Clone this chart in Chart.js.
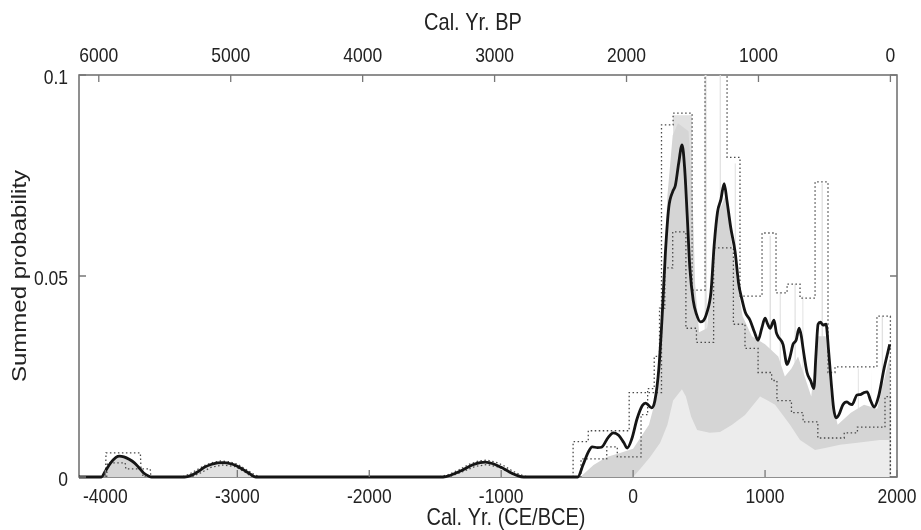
<!DOCTYPE html>
<html>
<head>
<meta charset="utf-8">
<script src="https://cdn.jsdelivr.net/npm/chart.js@4.4.1/dist/chart.umd.min.js"></script>
<style>
  html, body { margin: 0; padding: 0; background: #fff; }
  canvas { display: block; }
</style>
</head>
<body>
<canvas id="spd-chart" width="921" height="530"></canvas>
<script>
// tick labels
const ceTicks = [-4000, -3000, -2000, -1000, 0, 1000, 2000]
const bpTicks = [6000, 5000, 4000, 3000, 2000, 1000, 0]
const probTicks = [0, 0.05, 0.1]

// observed summed probability (black line)
const spdYears = [-4200, -4030, -4000, -3960, -3920, -3894, -3860, -3820, -3780, -3750, -3710, -3670, -3650,
  -3400, -3350, -3300, -3250, -3200, -3150, -3110, -3050, -3000, -2950, -2900, -2860,
  -1440, -1380, -1300, -1220, -1160, -1120, -1060, -1000, -940, -880, -830,
  -420, -380, -340, -310, -270, -240, -190, -150, -110, -70, -45, -10, 30, 70, 95, 140, 165, 195, 220, 245, 270,
  300, 320, 345, 371, 390, 410, 430, 455, 480, 510, 530, 560, 590, 615, 640, 665, 690, 710, 740, 773, 800, 826,
  850, 886, 920, 947, 975, 1000, 1020, 1038, 1068, 1085, 1098, 1136, 1167, 1190, 1212, 1235, 1258, 1275, 1288,
  1318, 1345, 1370, 1385, 1402, 1420, 1440, 1462, 1480, 1500, 1520, 1538, 1560, 1590, 1621, 1640, 1659, 1697,
  1720, 1750, 1773, 1800, 1826, 1860, 1902, 1945]
const spdValues = [0, 0, 0.0015, 0.0035, 0.0049, 0.0052, 0.005, 0.0044, 0.0035, 0.0025, 0.001, 0.0002, 0,
  0, 0.0004, 0.0013, 0.0024, 0.0031, 0.0035, 0.0036, 0.0033, 0.0027, 0.0017, 0.0007, 0,
  0, 0.0005, 0.0016, 0.003, 0.0036, 0.0037, 0.0033, 0.0024, 0.0013, 0.0004, 0,
  0, 0.003, 0.0062, 0.0075, 0.0073, 0.0074, 0.0098, 0.011, 0.0104, 0.0085, 0.0072, 0.0095, 0.0145, 0.0178, 0.0184, 0.0172, 0.019, 0.027, 0.04, 0.056, 0.067,
  0.071, 0.0725, 0.078, 0.0826, 0.077, 0.065, 0.052, 0.044, 0.0405, 0.0386, 0.0388, 0.041, 0.046, 0.058, 0.066, 0.069, 0.073, 0.069, 0.062, 0.056, 0.048, 0.044,
  0.041, 0.039, 0.036, 0.034, 0.037, 0.0395, 0.038, 0.037, 0.039, 0.036, 0.035, 0.033, 0.028, 0.030, 0.033, 0.034, 0.037, 0.035, 0.032,
  0.026, 0.024, 0.022, 0.030, 0.038, 0.0385, 0.0378, 0.038, 0.032, 0.024, 0.017, 0.0147, 0.0155, 0.018, 0.0187, 0.0182, 0.018, 0.0204,
  0.0205, 0.021, 0.0212, 0.019, 0.0174, 0.02, 0.027, 0.033]

// upper / lower dotted envelopes, early humps
const upperEarlyYears = [-4000, -3995, -3735, -3730, -3660, -3655,
  -3420, -3360, -3300, -3240, -3180, -3120, -3060, -3000, -2940, -2880, -2830,
  -1470, -1400, -1320, -1240, -1170, -1110, -1040, -980, -920, -860, -800]
const upperEarlyValues = [0, 0.006, 0.006, 0.002, 0.002, 0,
  0, 0.0008, 0.0019, 0.003, 0.0037, 0.004, 0.0038, 0.0032, 0.002, 0.0008, 0,
  0, 0.0006, 0.0018, 0.0032, 0.004, 0.0042, 0.0037, 0.0028, 0.0016, 0.0006, 0]
const lowerEarlyYears = [-3990, -3985, -3850, -3845, -3720, -3715,
  -3350, -3280, -3200, -3110, -3020, -2950, -2890,
  -1400, -1300, -1200, -1110, -1020, -950, -870]
const lowerEarlyValues = [0, 0.0035, 0.0035, 0.002, 0.002, 0,
  0, 0.001, 0.0024, 0.003, 0.0026, 0.0014, 0,
  0, 0.0012, 0.0026, 0.0031, 0.0025, 0.0014, 0]

// upper / lower dotted envelopes, stepped part (value holds until next year)
const upperStepYears = [-456, -455, -340, -30, 215, 303, 447, 545, 712, 810, 977, 1083, 1167, 1265, 1379, 1477, 1530, 1848, 1950]
const upperStepValues = [0, 0.0088, 0.0115, 0.021, 0.0876, 0.0905, 0.0465, 0.12, 0.0795, 0.045, 0.0607, 0.0458, 0.048, 0.0445, 0.0734, 0.026, 0.0274, 0.040, 0]
const lowerStepYears = [-400, -395, -200, -120, 60, 110, 160, 200, 240, 300, 400, 480, 610, 760, 848, 947, 1050, 1090, 1200, 1288, 1400, 1600, 1700, 1909, 1950]
const lowerStepValues = [0, 0.0045, 0.0075, 0.005, 0.0155, 0.022, 0.03, 0.042, 0.052, 0.061, 0.037, 0.0335, 0.057, 0.038, 0.032, 0.026, 0.024, 0.019, 0.016, 0.0137, 0.0097, 0.011, 0.0124, 0.02, 0]

// mid grey band
const midYears = [-4020, -4000, -3960, -3900, -3840, -3780, -3740, -3700, -3660,
  -400, -300, -200, -100, 0, 60, 120, 160, 200, 230, 260, 300, 340, 420, 450, 470, 500, 560, 600, 640, 700,
  740, 780, 830, 900, 1000, 1100, 1150, 1200, 1250, 1300, 1350, 1400, 1460, 1500, 1550, 1650, 1750, 1850, 1930, 1950, 1951]
const midValues = [0, 0.0015, 0.0038, 0.0055, 0.0052, 0.004, 0.0025, 0.001, 0,
  0, 0.003, 0.005, 0.006, 0.007, 0.01, 0.013, 0.018, 0.03, 0.05, 0.07, 0.085, 0.088, 0.086, 0.07, 0.048, 0.036, 0.037, 0.052, 0.065, 0.07,
  0.06, 0.05, 0.04, 0.035, 0.033, 0.03, 0.025, 0.027, 0.03, 0.025, 0.02, 0.035, 0.035, 0.02, 0.013, 0.016, 0.018, 0.017, 0.028, 0.03, 0]

// pale spikes
const spikeYears = [-3400, -3300, -3200, -3110, -3000, -2900, -2860,
  -1440, -1300, -1200, -1120, -1000, -900, -840,
  300, 303, 447, 450, 538, 542, 556, 560, 652, 656, 664, 668, 765, 770, 778, 782,
  1030, 1034, 1044, 1048, 1108, 1111, 1119, 1122, 1220, 1223, 1232, 1235, 1280, 1283, 1290, 1293,
  1425, 1428, 1438, 1441, 1700, 1703, 1710, 1713, 1800, 1803, 1810, 1813, 1880, 1884, 1894, 1898]
const spikeValues = [0, 0.0012, 0.003, 0.0035, 0.0027, 0.0008, 0,
  0, 0.0015, 0.003, 0.0036, 0.0024, 0.0006, 0,
  0, 0.09, 0.09, 0, 0, 0.12, 0.12, 0, 0, 0.12, 0.12, 0, 0, 0.078, 0.078, 0,
  0, 0.06, 0.06, 0, 0, 0.046, 0.046, 0, 0, 0.048, 0.048, 0, 0, 0.045, 0.045, 0,
  0, 0.073, 0.073, 0, 0, 0.027, 0.027, 0, 0, 0.027, 0.027, 0, 0, 0.04, 0.04, 0]

// pale lower hill
const lightYears = [0, 53, 129, 205, 260, 303, 370, 400, 440, 485, 580, 659, 750, 848, 962, 1020, 1076, 1189, 1265, 1379, 1455, 1568, 1700, 1871, 1945, 1946]
const lightValues = [0, 0.002, 0.005, 0.0085, 0.013, 0.019, 0.0218, 0.02, 0.015, 0.0117, 0.011, 0.0112, 0.013, 0.0154, 0.02, 0.019, 0.018, 0.013, 0.0092, 0.0067, 0.0072, 0.008, 0.0085, 0.0092, 0.0092, 0]

const pts = (xs, ys) => xs.map((x, i) => ({ x, y: ys[i] }))

const FONT = '"Liberation Sans", Arial, Helvetica, sans-serif'
Chart.defaults.font.family = FONT

const fillSet = (data, color, order) => ({
  data, order, fill: 'origin', backgroundColor: color,
  borderWidth: 0, pointRadius: 0, tension: 0, clip: 0
})
const dotSet = (data, order, stepped) => ({
  data, order, stepped, fill: false, borderColor: '#4a4a4a', borderWidth: 1.3,
  borderDash: [1.5, 2.5], pointRadius: 0, tension: 0, clip: 0
})

// the source picture is a little taller than wide, so text gets stretched vertically
const STRETCH = 1.2

const framePlugin = {
  id: 'frame',
  beforeDatasetsDraw(chart) {
    const { ctx, chartArea: a } = chart
    ctx.save()
    ctx.strokeStyle = '#6b6b6b'
    ctx.lineWidth = 1.5
    ctx.strokeRect(a.left, a.top, a.right - a.left, a.bottom - a.top)
    ctx.restore()
  },
  afterDatasetsDraw(chart) {
    const { ctx, chartArea: a, scales } = chart
    ctx.save()
    ctx.strokeStyle = '#777'
    ctx.lineWidth = 1.3
    ctx.beginPath()
    scales.x.ticks.forEach(t => {
      const px = scales.x.getPixelForValue(t.value)
      ctx.moveTo(px, a.bottom); ctx.lineTo(px, a.bottom - 7)
    })
    scales.x2.ticks.forEach(t => {
      const px = scales.x2.getPixelForValue(t.value)
      ctx.moveTo(px, a.top); ctx.lineTo(px, a.top + 7)
    })
    scales.y.ticks.forEach(t => {
      const py = scales.y.getPixelForValue(t.value)
      ctx.moveTo(a.left, py); ctx.lineTo(a.left + 7, py)
      ctx.moveTo(a.right, py); ctx.lineTo(a.right - 7, py)
    })
    ctx.stroke()
    ctx.restore()
  },
  afterDraw(chart) {
    const { ctx, chartArea: a, scales } = chart
    const drawText = (text, x, y, align, size, rotate) => {
      ctx.save()
      ctx.translate(x, y)
      if (rotate) ctx.rotate(-Math.PI / 2)
      ctx.scale(rotate ? STRETCH : 1, rotate ? 1 : STRETCH)
      ctx.font = size + 'px ' + FONT
      ctx.fillStyle = '#222'
      ctx.textAlign = align
      ctx.textBaseline = 'alphabetic'
      ctx.fillText(text, 0, 0)
      ctx.restore()
    }
    scales.x.ticks.forEach(t => drawText(String(t.value), scales.x.getPixelForValue(t.value), a.bottom + 26, 'center', 17.5))
    scales.x2.ticks.forEach(t => drawText(String(t.value), scales.x2.getPixelForValue(t.value), a.top - 13, 'center', 17.5))
    scales.y.ticks.forEach(t => drawText(String(t.value), a.left - 11, scales.y.getPixelForValue(t.value) + 9, 'right', 17.5))

    drawText('Cal. Yr. BP', a.left + 394, 30, 'center', 20)
    drawText('Cal. Yr. (CE/BCE)', a.left + 427, 525, 'center', 20)
    drawText('Summed probability', 26, (a.top + a.bottom) / 2, 'center', 20, true)
  }
}

new Chart(document.getElementById('spd-chart'), {
  type: 'line',
  data: {
    datasets: [
      { data: pts(spdYears, spdValues), order: 0, borderColor: '#151515', borderWidth: 2.8,
        pointRadius: 0, fill: false, cubicInterpolationMode: 'monotone',
        clip: { left: 0, top: 0, right: 0, bottom: 3 } },
      dotSet(pts(upperEarlyYears, upperEarlyValues), 1, false),
      dotSet(pts(lowerEarlyYears, lowerEarlyValues), 1, false),
      dotSet(pts(upperStepYears, upperStepValues), 1, 'before'),
      dotSet(pts(lowerStepYears, lowerStepValues), 1, 'before'),
      fillSet(pts(lightYears, lightValues), '#ececec', 2),
      fillSet(pts(midYears, midValues), '#d5d5d5', 3),
      fillSet(pts(spikeYears, spikeValues), '#e1e1e1', 4)
    ]
  },
  options: {
    responsive: false,
    animation: false,
    events: [],
    layout: { padding: { left: 0, right: 24, top: 0, bottom: 0 } },
    plugins: { legend: { display: false }, tooltip: { enabled: false } },
    scales: {
      x: {
        type: 'linear', position: 'bottom', min: -4200, max: 2000,
        grid: { display: false, drawTicks: false }, border: { display: false },
        afterBuildTicks: s => { s.ticks = ceTicks.map(v => ({ value: v })) },
        afterFit: s => { s.height = 53 },
        ticks: { display: false }
      },
      x2: {
        type: 'linear', position: 'top', min: -50, max: 6150, reverse: true,
        grid: { display: false, drawTicks: false }, border: { display: false },
        afterBuildTicks: s => { s.ticks = bpTicks.map(v => ({ value: v })) },
        afterFit: s => { s.height = 75 },
        ticks: { display: false }
      },
      y: {
        min: 0, max: 0.1,
        grid: { display: false, drawTicks: false }, border: { display: false },
        afterBuildTicks: s => { s.ticks = probTicks.map(v => ({ value: v })) },
        afterFit: s => { s.width = 79 },
        ticks: { display: false }
      }
    }
  },
  plugins: [framePlugin]
})
</script>
</body>
</html>
